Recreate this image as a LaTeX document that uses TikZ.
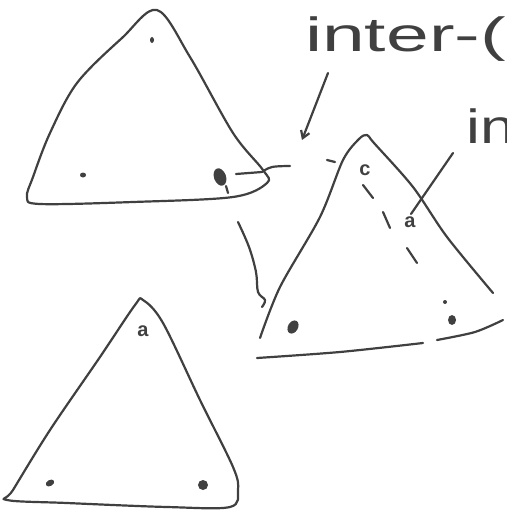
\documentclass[tikz,border=0pt]{standalone}
\usepackage{fontspec}
\setmainfont{Liberation Sans}
\usetikzlibrary{arrows.meta}
\definecolor{ink}{gray}{0.25}
\begin{document}
\begin{tikzpicture}[x=1pt,y=-1pt,
  pen/.style={line width=2.2pt, draw=ink, line cap=round, line join=round},
  blob/.style={fill=ink},
  hand/.style={text=ink, inner sep=0pt, font=\fontsize{48}{48}\selectfont},
  small/.style={text=ink, inner sep=0pt, font=\fontsize{20}{20}\selectfont\bfseries}]
\useasboundingbox (0,0) rectangle (506,511);
\clip (0,0) rectangle (506,511);
% labels
\node[hand, anchor=base west] (inter) at (305,52) {\scalebox{1.6}[1]{inter-(}};
\node[hand, anchor=base west] (in) at (466,143) {\scalebox{1.3}[1]{in}};
\coordinate (interfoot) at (328,73);
\coordinate (interhead) at (302,140);
\coordinate (infoot) at (453,153);
\coordinate (inhead) at (411,214);
\draw[pen, -{Straight Barb[length=7pt,width=9pt]}] (interfoot) -- (interhead);
\draw[pen] (infoot) -- (inhead);
% triangle 1
\draw[pen] plot[smooth cycle, tension=0.55] coordinates {(157,10) (190,57) (233,133) (263,170) (267,183) (233,197) (133,202) (40,204) (27,197) (33,177) (50,133) (77,83) (122,38)};
\fill[blob] (152,40) ellipse (2pt and 3pt);
\fill[blob] (83,175) ellipse (3pt and 2.5pt);
\fill[blob, rotate around={20:(220,177)}] (220,177) ellipse (6pt and 9pt);
\draw[pen] (226,186) -- (228,193);
\draw[pen] (236,174) -- (262,172);
\draw[pen] plot[smooth, tension=0.6] coordinates {(262,172) (272,167) (290,166)};
% squiggle between triangles
\draw[pen] plot[smooth, tension=0.6] coordinates {(238,222) (249,247) (256,272) (258,292) (265,300) (262,307)};
% triangle 2
\draw[pen] plot[smooth, tension=0.5] coordinates {(260,338) (280,287) (320,217) (343,160) (359,139) (367,135) (374,143) (413,187) (447,237) (493,293)};
\draw[pen] plot[smooth, tension=0.5] coordinates {(257,358) (340,352) (423,343)};
\draw[pen] plot[smooth, tension=0.5] coordinates {(437,340) (475,332) (503,320)};
\draw[pen] (327,160) -- (335,162);
\draw[pen] (363,185) -- (373,198);
\draw[pen] (383,212) -- (390,228);
\draw[pen] (407,248) -- (417,263);
\node[small] (c2) at (365,170) {c};
\node[small] (a2) at (410,222) {a};
\fill[blob, rotate around={-30:(293,327)}] (293,327) ellipse (5pt and 7pt);
\fill[blob] (445,302) circle (2pt);
\fill[blob] (452,320) ellipse (4pt and 5pt);
% triangle 3
\draw[pen] plot[smooth cycle, tension=0.55] coordinates {(143,300) (163,323) (200,400) (233,467) (238,490) (230,507) (167,507) (67,503) (7,500) (13,490) (50,430) (100,357) (135,305)};
\node[small] (a3) at (143,331) {a};
\fill[blob, rotate around={30:(50,483)}] (50,483) ellipse (4.5pt and 3pt);
\fill[blob] (203,485) circle (5pt);
\end{tikzpicture}
\end{document}
